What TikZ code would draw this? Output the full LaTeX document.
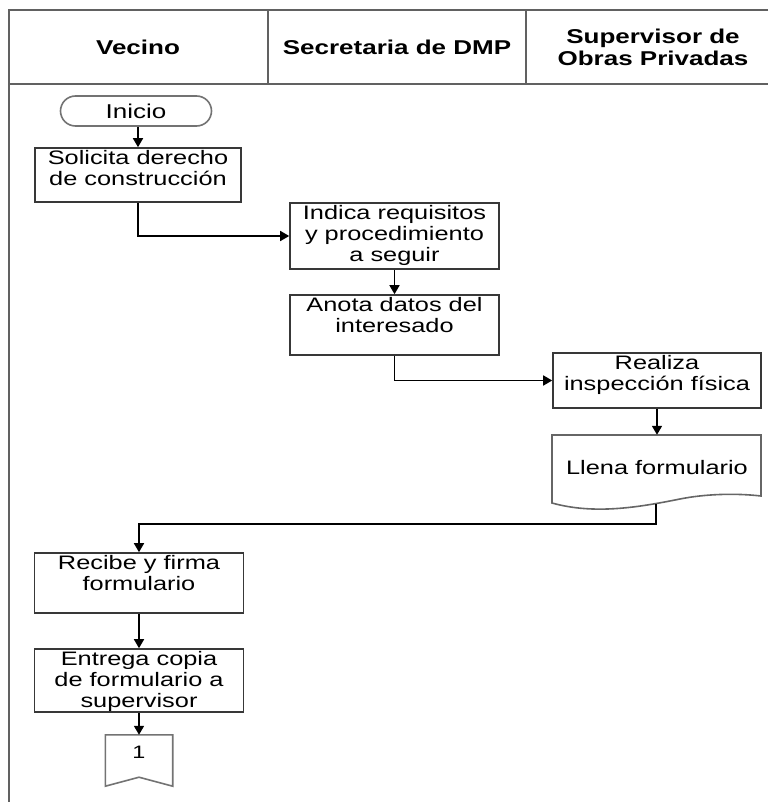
\documentclass[tikz,border=0pt]{standalone}
\usepackage{fontspec}
\setmainfont[FakeStretch=1.3]{Liberation Sans}
\usetikzlibrary{arrows.meta,shapes.misc}

\begin{document}
\begin{tikzpicture}[x=1pt,y=-1pt,
  lane/.style={draw=black!62,line width=2.2pt},
  headtext/.style={font=\fontsize{20}{22}\selectfont\bfseries,align=center,inner sep=0pt},
  stepbox/.style={draw=black!78,line width=1.6pt,fill=white,inner sep=0pt},
  steptext/.style={font=\fontsize{19.5}{21}\selectfont,align=center,anchor=north,inner sep=2.5pt},
  startbox/.style={draw=black!55,line width=1.6pt,rounded rectangle,inner sep=0pt,
    minimum width=151pt,minimum height=30pt,font=\fontsize{20}{22}\selectfont},
  flow/.style={draw=black,line width=1.6pt,-{Triangle[length=9pt,width=10pt]}}
]
\useasboundingbox (0,0) rectangle (768,802);

% swimlane frame
\draw[lane] (768,10) -- (9,10) -- (9,802);
\draw[lane] (9,84) -- (768,84);
\draw[lane] (268,10) -- (268,84);
\draw[lane] (526,10) -- (526,84);
\node[headtext] (hvecino) at (138,47) {Vecino};
\node[headtext] (hsecre) at (397,47) {Secretaria de DMP};
\node[headtext] (hsuper) at (653,47) {Supervisor de\\Obras Privadas};

% start
\node[startbox] (inicio) at (136,111) {Inicio};

% process steps
\node[stepbox,minimum width=206pt,minimum height=54pt] (solicita) at (138,175) {};
\node[steptext] (tsolicita) at (solicita.north) {Solicita derecho\\de construcción};

\node[stepbox,minimum width=209pt,minimum height=66pt] (indica) at (394.5,236) {};
\node[steptext] (tindica) at (indica.north) {Indica requisitos\\y procedimiento\\a seguir};

\node[stepbox,minimum width=209pt,minimum height=60pt] (anota) at (394.5,325) {};
\node[steptext] (tanota) at (anota.north) {Anota datos del\\interesado};

\node[stepbox,minimum width=208pt,minimum height=55pt] (realiza) at (657,380.5) {};
\node[steptext] (trealiza) at (realiza.north) {Realiza\\inspección física};

% document shape
\node[inner sep=0pt,minimum width=209pt,minimum height=68pt] (llena) at (656.5,469) {};
\draw[draw=black!60,line width=1.6pt,fill=white]
  (552,435) -- (761,435) -- (761,496)
  .. controls (735,493) and (705,494) .. (680,499)
  .. controls (640,507) and (595,515) .. (552,503) -- cycle;
\node[font=\fontsize{19.5}{21}\selectfont,inner sep=0pt] (tllena) at (657,468) {Llena formulario};
\coordinate (llenaout) at (656,504);

\node[stepbox,minimum width=209pt,minimum height=60pt] (recibe) at (139,583) {};
\node[steptext] (trecibe) at (recibe.north) {Recibe y firma\\formulario};

\node[stepbox,minimum width=209pt,minimum height=63pt] (entrega) at (139,680.5) {};
\node[steptext] (tentrega) at (entrega.north) {Entrega copia\\de formulario a\\supervisor};

% off-page connector
\node[inner sep=0pt,minimum width=67pt,minimum height=42pt] (conn) at (139,756) {};
\draw[draw=black!55,line width=1.6pt,fill=white]
  (conn.north west) -- (conn.north east) -- ([yshift=-9pt]conn.south east)
  -- (conn.south) -- ([yshift=-9pt]conn.south west) -- cycle;
\node[font=\fontsize{18}{20}\selectfont,inner sep=0pt] (tconn) at (139,752) {1};

% connectors
\draw[flow] (inicio.south -| solicita.north) -- (solicita.north);
\draw[flow] (solicita.south) |- (indica.west);
\draw[flow] (indica.south) -- (anota.north);
\draw[flow] (anota.south) |- (realiza.west);
\draw[flow] (realiza.south) -- (realiza.south |- llena.north);
\draw[flow] (llenaout) -- ++(0,20) -| (recibe.north);
\draw[flow] (recibe.south) -- (entrega.north);
\draw[flow] (entrega.south) -- (conn.north);
\end{tikzpicture}
\end{document}
